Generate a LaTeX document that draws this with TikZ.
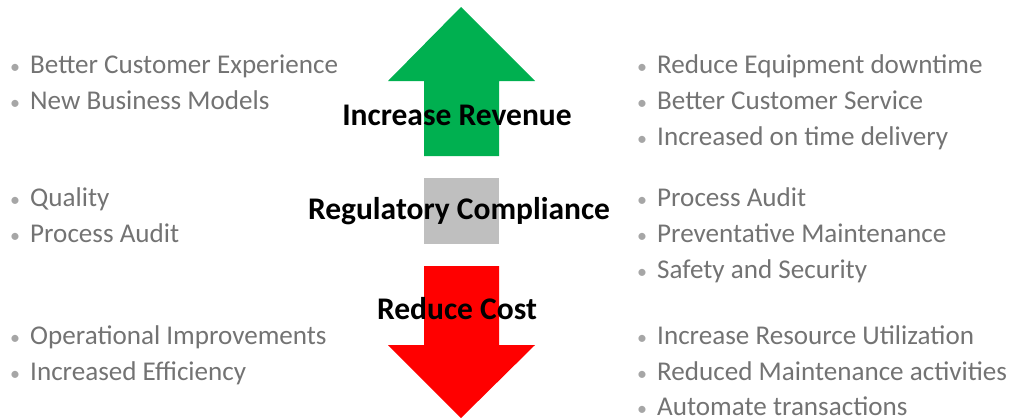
\documentclass[tikz,border=0pt]{standalone}
\usepackage{fontspec}
\setmainfont{Carlito}
\usepackage{xcolor}
\definecolor{upgreen}{HTML}{00B050}
\definecolor{downred}{HTML}{FF0000}
\definecolor{boxgray}{HTML}{BFBFBF}
\definecolor{itemgray}{HTML}{737373}
\definecolor{dotgray}{HTML}{A6A6A6}
\newcommand{\itm}{\llap{\textcolor{dotgray}{\fontsize{20}{20}\selectfont•}\hspace{10pt}}}
\tikzset{
    item/.style={anchor=base west, inner sep=0pt, text=itemgray, font=\fontsize{27.1}{30}\selectfont},
    goal/.style={anchor=base, inner sep=0pt, text=black, font=\bfseries\fontsize{31.5}{34}\selectfont},
}

\begin{document}
\begin{tikzpicture}[x=1pt, y=-1pt]
        \useasboundingbox (0,0) rectangle (1011,418);
        % arrows and box
        \fill[upgreen] (461,7) -- (535,81) -- (499,81) -- (499,156) -- (424,156) -- (424,81) -- (388,81) -- cycle;
        \fill[boxgray] (424,178) rectangle (499,244);
        \fill[downred] (424,266) -- (499,266) -- (499,345) -- (535,345) -- (461,418) -- (388,345) -- (424,345) -- cycle;
        % labels
        \node[goal] (rev) at (457,125) {Increase Revenue};
        \node[goal] (reg) at (459,219) {Regulatory Compliance};
        \node[goal] (cost) at (457,319) {Reduce Cost};
        % left lists
        \node[item] (l1) at (30,73) {\itm Better Customer Experience};
        \node[item] (l2) at (30,109) {\itm New Business Models};
        \node[item] (l3) at (30,206) {\itm Quality};
        \node[item] (l4) at (30,242) {\itm Process Audit};
        \node[item] (l5) at (30,344) {\itm Operational Improvements};
        \node[item] (l6) at (30,380) {\itm Increased Efficiency};
        % right lists
        \node[item] (r1) at (657,73) {\itm Reduce Equipment downtime};
        \node[item] (r2) at (657,109) {\itm Better Customer Service};
        \node[item] (r3) at (657,145) {\itm Increased on time delivery};
        \node[item] (r4) at (657,206) {\itm Process Audit};
        \node[item] (r5) at (657,242) {\itm Preventative Maintenance};
        \node[item] (r6) at (657,278) {\itm Safety and Security};
        \node[item] (r7) at (657,344) {\itm Increase Resource Utilization};
        \node[item] (r8) at (657,380) {\itm Reduced Maintenance activities};
        \node[item] (r9) at (657,415) {\itm Automate transactions};
\end{tikzpicture}
\end{document}
